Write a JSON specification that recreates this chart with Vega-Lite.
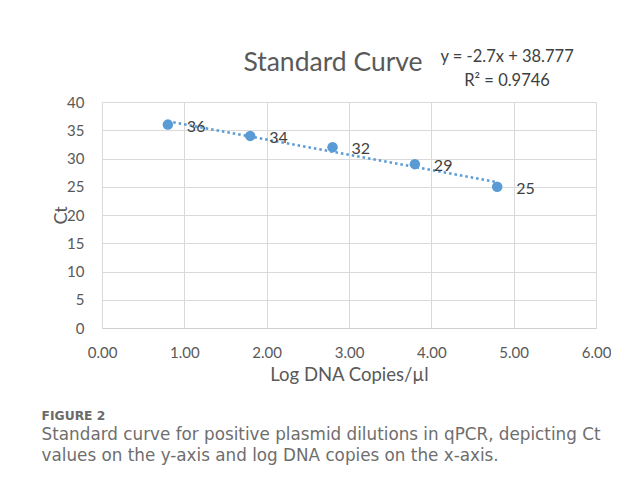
{
  "$schema": "https://vega.github.io/schema/vega-lite/v6.json",
  "background": "white",
  "padding": {"left": 41, "top": 48, "right": 0, "bottom": 0},
  "autosize": {"type": "pad"},
  "config": {
    "font": "Lato",
    "view": {"stroke": null},
    "concat": {"spacing": 0},
    "title": {
      "subtitleFont": "DejaVu Sans",
      "subtitleFontSize": 16.8,
      "subtitleColor": "#6e6e6e",
      "subtitleFontWeight": "normal",
      "subtitlePadding": 5,
      "subtitleLineHeight": 21
    }
  },
  "title": {
    "text": "FIGURE 2",
    "subtitle": [
      "Standard curve for positive plasmid dilutions in qPCR, depicting Ct",
      "values on the y-axis and log DNA copies on the x-axis."
    ],
    "orient": "bottom",
    "anchor": "start",
    "frame": "bounds",
    "font": "DejaVu Sans",
    "fontSize": 12.3,
    "fontWeight": "bold",
    "color": "#6a6a6a",
    "offset": 26,
    "dx": -11
  },
  "vconcat": [
    {
      "width": 494,
      "height": 226,
      "title": {
        "text": "Standard Curve",
        "font": "Lato",
        "fontSize": 26.5,
        "fontWeight": "normal",
        "color": "#595959",
        "anchor": "middle",
        "dx": -16,
        "offset": -28
      },
      "data": {
        "values": [
          {"logc": 0.8, "ct": 36},
          {"logc": 1.8, "ct": 34},
          {"logc": 2.8, "ct": 32},
          {"logc": 3.8, "ct": 29},
          {"logc": 4.8, "ct": 25}
        ]
      },
      "encoding": {
        "x": {
          "field": "logc",
          "type": "quantitative",
          "scale": {"domain": [0, 6], "nice": false, "zero": false},
          "axis": {
            "values": [0, 1, 2, 3, 4, 5, 6],
            "format": ".2f",
            "labelFlush": false,
            "grid": true,
            "gridColor": "#d9d9d9",
            "gridWidth": 1,
            "domainColor": "#d0d0d0",
            "ticks": false,
            "tickSize": 0,
            "labelFont": "Lato",
            "labelFontSize": 15,
            "labelColor": "#595959",
            "labelPadding": 17,
            "title": "Log DNA Copies/µl",
            "titleFont": "Lato",
            "titleFontSize": 18.5,
            "titleFontWeight": "normal",
            "titleColor": "#595959",
            "titlePadding": 5
          }
        },
        "y": {
          "field": "ct",
          "type": "quantitative",
          "scale": {"domain": [0, 40], "nice": false},
          "axis": {
            "values": [0, 5, 10, 15, 20, 25, 30, 35, 40],
            "grid": true,
            "gridColor": "#d9d9d9",
            "gridWidth": 1,
            "domainColor": "#d9d9d9",
            "ticks": false,
            "tickSize": 0,
            "labelFont": "Lato",
            "labelFontSize": 15,
            "labelColor": "#595959",
            "labelPadding": 18,
            "title": "Ct",
            "titleFont": "Lato",
            "titleFontSize": 18,
            "titleFontWeight": "normal",
            "titleColor": "#595959",
            "titlePadding": -4
          }
        }
      },
      "layer": [
        {
          "transform": [{"regression": "ct", "on": "logc", "extent": [0.8, 4.8]}],
          "mark": {"type": "line", "color": "#5b9bd5", "strokeWidth": 2.5, "strokeDash": [2.5, 3], "strokeCap": "butt"}
        },
        {
          "mark": {"type": "point", "filled": true, "opacity": 1, "size": 110, "color": "#5b9bd5"}
        },
        {
          "mark": {"type": "text", "align": "left", "baseline": "middle", "dx": 19, "dy": 2, "fontSize": 16, "color": "#404040", "font": "Lato"},
          "encoding": {"text": {"field": "ct", "type": "quantitative"}}
        },
        {
          "transform": [{"filter": "datum.ct == 25"}],
          "mark": {"type": "text", "align": "center", "baseline": "alphabetic", "fontSize": 16.5, "color": "#404040", "font": "Lato", "text": "y = -2.7x + 38.777"},
          "encoding": {"x": {"datum": 4.92}, "y": {"datum": 47.1}}
        },
        {
          "transform": [{"filter": "datum.ct == 25"}],
          "mark": {"type": "text", "align": "center", "baseline": "alphabetic", "fontSize": 16.5, "color": "#404040", "font": "Lato", "text": "R² = 0.9746"},
          "encoding": {"x": {"datum": 4.92}, "y": {"datum": 42.85}}
        }
      ]
    }
  ]
}
